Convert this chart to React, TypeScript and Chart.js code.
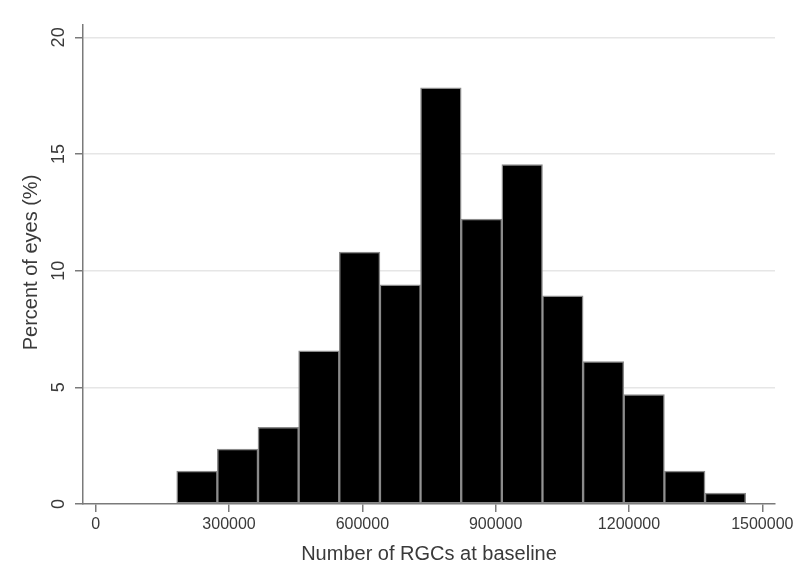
import { useEffect, useRef } from "react";
import { Chart, registerables } from "chart.js";

Chart.register(...registerables);

// Histogram bins (lower edges) and bin width, in number of RGCs
const binStarts = [
  182300, 273750, 365200, 456650, 548100, 639550, 731000,
  822450, 913900, 1005350, 1096800, 1188250, 1279700, 1371150,
];
const binWidth = 91450;
// Percent of eyes in each bin
const percents = [
  1.41, 2.35, 3.29, 6.57, 10.8, 9.39, 17.84,
  12.21, 14.55, 8.92, 6.1, 4.69, 1.41, 0.47,
];
const xTicks = [0, 300000, 600000, 900000, 1200000, 1500000];
const yTicks = [0, 5, 10, 15, 20];
const xTitle = "Number of RGCs at baseline";
const yTitle = "Percent of eyes (%)";

const FONT = '"Liberation Sans", Arial, Helvetica, sans-serif';
const TEXT = "#3a3a3a";
const AXIS = "#7a7a7a";

const textPlugin = {
  id: "stataTexts",
  afterDraw(chart: any) {
    const ctx = chart.ctx as CanvasRenderingContext2D;
    const xs = chart.scales.x;
    const ys = chart.scales.y;
    const area = chart.chartArea;
    ctx.save();
    ctx.fillStyle = TEXT;
    ctx.textAlign = "center";
    ctx.textBaseline = "middle";
    ctx.font = `16px ${FONT}`;
    xTicks.forEach((v) => {
      ctx.fillText(String(v), xs.getPixelForValue(v), area.bottom + 21);
    });
    ctx.font = `18px ${FONT}`;
    yTicks.forEach((v) => {
      ctx.save();
      ctx.translate(area.left - 24, ys.getPixelForValue(v));
      ctx.rotate(-Math.PI / 2);
      ctx.fillText(String(v), 0, 0);
      ctx.restore();
    });
    ctx.font = `20px ${FONT}`;
    ctx.fillText(xTitle, (area.left + area.right) / 2, area.bottom + 50);
    ctx.save();
    ctx.translate(area.left - 52, (area.top + area.bottom) / 2 - 2);
    ctx.rotate(-Math.PI / 2);
    ctx.fillText(yTitle, 0, 0);
    ctx.restore();
    ctx.restore();
  },
};

export default function App() {
  const ref = useRef<HTMLCanvasElement | null>(null);

  useEffect(() => {
    if (!ref.current) return;
    const chart = new Chart(ref.current, {
      type: "bar",
      data: {
        datasets: [
          {
            data: binStarts.map((s, i) => ({ x: s + binWidth / 2, y: percents[i] })),
            backgroundColor: "#000000",
            borderColor: "#8a8a8a",
            borderWidth: 1.5,
            borderSkipped: false,
            barPercentage: 1,
            categoryPercentage: 1,
          } as any,
        ],
      },
      options: {
        responsive: false,
        animation: false,
        layout: { padding: { top: 25, right: 25, left: 0, bottom: 0 } },
        plugins: {
          legend: { display: false },
          tooltip: { enabled: false },
        },
        scales: {
          x: {
            type: "linear",
            offset: false,
            min: -28600,
            max: 1528600,
            afterBuildTicks: (s: any) => {
              s.ticks = xTicks.map((v) => ({ value: v }));
            },
            afterFit: (s: any) => {
              s.height = 62;
            },
            ticks: { display: false },
            grid: {
              offset: false,
              drawOnChartArea: false,
              drawTicks: true,
              tickLength: 8,
              tickColor: AXIS,
              lineWidth: 1.5,
            },
            border: { color: AXIS, width: 1.5 },
          },
          y: {
            type: "linear",
            min: 0,
            max: 20.53,
            afterBuildTicks: (s: any) => {
              s.ticks = yTicks.map((v) => ({ value: v }));
            },
            afterFit: (s: any) => {
              s.width = 83;
            },
            ticks: { display: false },
            grid: {
              color: (c: any) => (c.tick && c.tick.value === 0 ? "rgba(0,0,0,0)" : "#e6e6e6"),
              drawTicks: true,
              tickLength: 8,
              tickColor: AXIS,
              lineWidth: 1.5,
            },
            border: { color: AXIS, width: 1.5 },
          },
        },
      },
      plugins: [textPlugin],
    });
    return () => chart.destroy();
  }, []);

  return (
    <div style={{ position: "absolute", left: 0, top: 0, width: 800, height: 566, background: "#fff" }}>
      <canvas ref={ref} width={800} height={566} style={{ display: "block" }} />
    </div>
  );
}
